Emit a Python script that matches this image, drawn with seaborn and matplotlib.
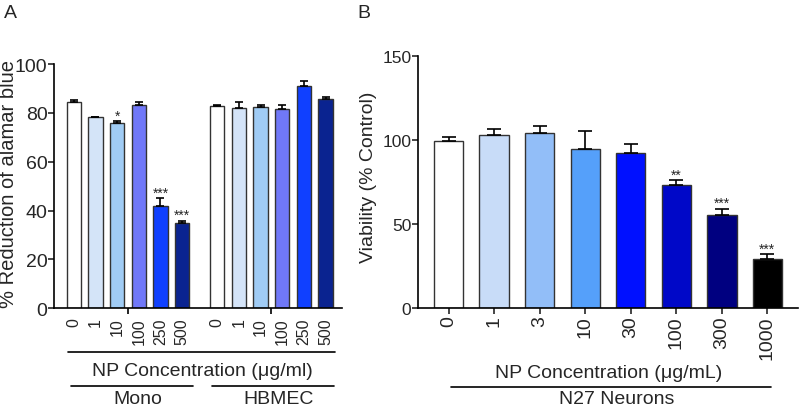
import numpy as np
import pandas as pd
import matplotlib
matplotlib.use("Agg")
import matplotlib.pyplot as plt
from matplotlib.lines import Line2D
import seaborn as sns

# ---------------- data ----------------
a_conc = ["0", "1", "10", "100", "250", "500"]
a_mono = [84.6, 78.2, 76.0, 83.2, 41.7, 34.8]
a_mono_err = [0.8, 0.3, 0.8, 1.4, 3.5, 1.1]
a_hbmec = [82.9, 82.0, 82.4, 81.4, 91.1, 85.8]
a_hbmec_err = [0.5, 2.3, 0.8, 2.0, 1.8, 0.6]
a_colors = ["#ffffff", "#d4e4f8", "#a0ccf5", "#7078f8", "#1040ff", "#0a2390"]
a_stars_mono = ["", "", "*", "", "***", "***"]

b_conc = ["0", "1", "3", "10", "30", "100", "300", "1000"]
b_vals = [99.5, 102.9, 104.1, 94.8, 92.4, 73.0, 55.4, 29.5]
b_err = [2.4, 3.6, 4.0, 10.3, 5.4, 3.2, 3.8, 2.8]
b_colors = ["#ffffff", "#c8dcf8", "#92bef8", "#55a0fa", "#0010ff", "#0008c8", "#000080", "#000000"]
b_stars = ["", "", "", "", "", "**", "***", "***"]

group_offset = 6.615

sns.set_theme(style="ticks")
plt.rcParams["font.family"] = ["Liberation Sans", "DejaVu Sans"]

fig = plt.figure(figsize=(8, 4.14), dpi=100)
W, H = 800, 414

def fx(px):
    return px / W

def fy(py):
    return 1 - py / H

axA = fig.add_axes([0.0679, 0.2529, 0.3593, 0.590])
axB = fig.add_axes([0.5229, 0.2529, 0.475, 0.610])

def add_stars(ax, xs, ys, errs, stars):
    for p, v, e, s in zip(xs, ys, errs, stars):
        if s:
            ax.annotate(s, xy=(p, v + e), xytext=(0, 1.0), textcoords="offset points",
                        ha="center", va="baseline", fontsize=10)

# ---------------- panel A ----------------
posA = list(np.arange(6)) + list(np.arange(6) + group_offset)
dfA = pd.DataFrame({
    "pos": posA,
    "val": a_mono + a_hbmec,
    "err": a_mono_err + a_hbmec_err,
    "key": [f"m{c}" for c in a_conc] + [f"h{c}" for c in a_conc],
    "label": a_conc + a_conc,
    "star": a_stars_mono + [""] * 6,
})
palA = {k: c for k, c in zip(dfA["key"], a_colors + a_colors)}
sns.barplot(data=dfA, x="pos", y="val", hue="key", palette=palA, native_scale=True,
            dodge=False, width=0.66, legend=False, edgecolor="#333333", linewidth=1.0,
            saturation=1, errorbar=None, ax=axA)
axA.errorbar(dfA["pos"], dfA["val"], yerr=[np.zeros(len(dfA)), dfA["err"]], fmt="none",
             ecolor="black", elinewidth=1.2, capsize=3, capthick=1.2, zorder=5)
add_stars(axA, dfA["pos"], dfA["val"], dfA["err"], dfA["star"])
axA.set_xlim(-0.9, 11.615 + 0.75)
axA.set_ylim(0, 100)
axA.set_yticks([0, 20, 40, 60, 80, 100])
axA.set_xticks(dfA["pos"])
axA.set_xticklabels(dfA["label"], rotation=90, fontsize=11.5)
axA.tick_params(axis="x", length=0, pad=6.5)
axA.set_xticks([2.5, 2.5 + group_offset], minor=True)
axA.tick_params(axis="x", which="minor", length=4, width=1.2, color="black")
axA.tick_params(axis="y", labelsize=14, length=4, width=1.2, pad=1)
axA.set_xlabel("")
axA.set_ylabel("% Reduction of alamar blue", fontsize=14.5)
axA.yaxis.set_label_coords(-0.126, 0.515)
sns.despine(ax=axA)
for sp in ["left", "bottom"]:
    axA.spines[sp].set_linewidth(1.2)
    axA.spines[sp].set_color("black")

# ---------------- panel B ----------------
posB = list(np.arange(len(b_conc)))
dfB = pd.DataFrame({"pos": posB, "val": b_vals, "err": b_err, "key": b_conc,
                    "star": b_stars})
palB = {k: c for k, c in zip(b_conc, b_colors)}
sns.barplot(data=dfB, x="pos", y="val", hue="key", palette=palB, native_scale=True,
            dodge=False, width=0.645, legend=False, edgecolor="#333333", linewidth=1.0,
            saturation=1, errorbar=None, ax=axB)
axB.errorbar(dfB["pos"], dfB["val"], yerr=[np.zeros(len(dfB)), dfB["err"]], fmt="none",
             ecolor="black", elinewidth=1.2, capsize=5, capthick=1.2, zorder=5)
add_stars(axB, dfB["pos"], dfB["val"], dfB["err"], dfB["star"])
axB.set_xlim(-0.666, 7.68)
axB.set_ylim(0, 150)
axB.set_yticks([0, 50, 100, 150])
axB.set_xticks(posB)
axB.set_xticklabels(b_conc, rotation=90, fontsize=14)
axB.tick_params(axis="x", length=4, width=1.2, pad=1)
axB.tick_params(axis="y", labelsize=12.5, length=4, width=1.2, pad=1)
axB.set_xlabel("")
axB.set_ylabel("Viability (% Control)", fontsize=14)
axB.yaxis.set_label_coords(-0.109, 0.524)
sns.despine(ax=axB)
for sp in ["left", "bottom"]:
    axB.spines[sp].set_linewidth(1.2)
    axB.spines[sp].set_color("black")

# ---------------- group annotations ----------------
def hline(x0, x1, y):
    fig.add_artist(Line2D([fx(x0), fx(x1)], [fy(y), fy(y)], color="black", lw=1.2))

hline(68.3, 335, 353.3)
fig.text(fx(202.5), fy(371.7), "NP Concentration (\u03bcg/ml)", ha="center", va="center", fontsize=14)
hline(70.7, 192.7, 387.3)
hline(212.3, 334.3, 387.3)
fig.text(fx(138), fy(400), "Mono", ha="center", va="center", fontsize=14)
fig.text(fx(279), fy(400), "HBMEC", ha="center", va="center", fontsize=14)

fig.text(fx(608.3), fy(374), "NP Concentration (\u03bcg/mL)", ha="center", va="center", fontsize=14)
hline(450.7, 770.7, 387.7)
fig.text(fx(616.7), fy(400), "N27 Neurons", ha="center", va="center", fontsize=14)

fig.text(fx(4), fy(5), "A", ha="left", va="top", fontsize=14)
fig.text(fx(357), fy(5), "B", ha="left", va="top", fontsize=14)

fig.savefig("out.png", dpi=100)
